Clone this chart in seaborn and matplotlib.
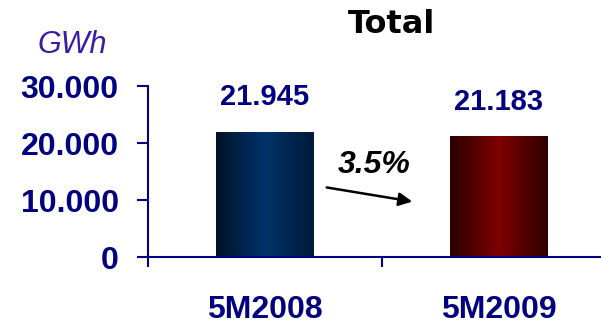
import numpy as np
import pandas as pd
import matplotlib
matplotlib.use("Agg")
import matplotlib.pyplot as plt
from matplotlib.colors import LinearSegmentedColormap
import seaborn as sns

# Energy totals (GWh) for the first five months of each year
periods = ["5M2008", "5M2009"]
totals = [21945, 21183]
value_labels = ["21.945", "21.183"]
y_ticks = [0, 10000, 20000, 30000]
y_tick_labels = ["0", "10.000", "20.000", "30.000"]
change_label = "3.5%"

NAVY = "#000080"

sns.set_theme(style="white")
plt.rcParams["font.family"] = ["Liberation Sans", "DejaVu Sans"]

df = pd.DataFrame({"period": periods, "total": totals})

fig = plt.figure(figsize=(6.01, 3.23), dpi=100)
ax = fig.add_axes([0.2463, 0.2043, 0.7537, 0.5294])

sns.barplot(data=df, x="period", y="total", ax=ax, width=0.415,
            color="white", edgecolor="none", saturation=1)

# Cylinder-style shading on each bar
shades = [
    LinearSegmentedColormap.from_list("blue_bar", ["#001228", "#00336a", "#001a38"]),
    LinearSegmentedColormap.from_list("red_bar", ["#2a0000", "#800000", "#2e0000"]),
]
grad = np.linspace(0, 1, 256).reshape(1, -1)
for patch, cmap in zip(ax.patches, shades):
    x0, y0 = patch.get_x(), patch.get_y()
    w, h = patch.get_width(), patch.get_height()
    im = ax.imshow(grad, cmap=cmap, aspect="auto",
                   extent=(x0, x0 + w, y0, y0 + h), zorder=2)
    im.set_clip_path(patch)

for i, (v, lab) in enumerate(zip(totals, value_labels)):
    ax.annotate(lab, (i, v), xytext=(0, 25), textcoords="offset points",
                ha="center", va="center", color=NAVY, fontsize=21,
                fontweight="bold")

ax.set_yticks(y_ticks)
ax.set_yticklabels(y_tick_labels)
ax.set_xticks([-0.5, 0.5, 1.5], minor=True)
ax.set_xlim(-0.5, 1.436)
ax.set_ylim(0, 30000)
ax.tick_params(axis="x", which="major", length=0, pad=27, labelsize=23,
               labelcolor=NAVY)
ax.tick_params(axis="x", which="minor", direction="out", length=7.5,
               width=1.5, color=NAVY, bottom=True)
ax.tick_params(axis="y", direction="out", length=8, width=1.5, color=NAVY,
               pad=13, labelsize=23, labelcolor=NAVY, left=True)
for t in ax.get_xticklabels() + ax.get_yticklabels():
    t.set_fontweight("bold")

ax.set_xlabel("")
ax.set_ylabel("")
for side in ["top", "right"]:
    ax.spines[side].set_visible(False)
for side in ["left", "bottom"]:
    ax.spines[side].set_color(NAVY)
    ax.spines[side].set_linewidth(1.5)

# Year-over-year decline arrow
ax.annotate("", xy=(0.641, 9650), xytext=(0.252, 12280),
            arrowprops=dict(arrowstyle="-|>", color="black", lw=1.8,
                            mutation_scale=20))
ax.text(0.466, 16140, change_label, ha="center", va="center", fontsize=23,
        fontweight="bold", fontstyle="italic", color="black")

fig.text(0.652, 0.923, "Total", ha="center", va="center", fontsize=23,
         fontweight="bold", color="black", family="DejaVu Sans")
fig.text(0.12, 0.862, "GWh", ha="center", va="center", fontsize=22,
         fontstyle="italic", color="#3a1aa8")

fig.savefig("out.png", dpi=100)
